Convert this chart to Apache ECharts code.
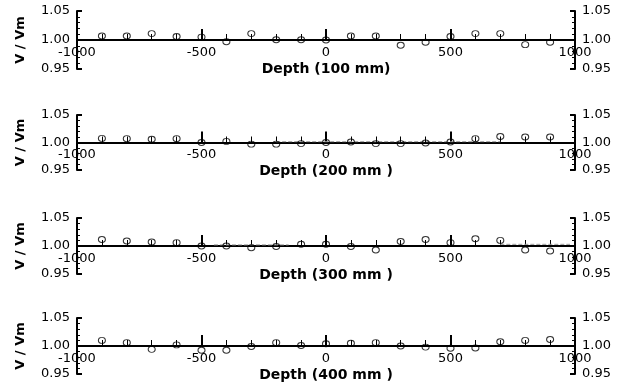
<!DOCTYPE html>
<html>
<head>
<meta charset="utf-8">
<script src="https://cdn.jsdelivr.net/npm/echarts@6/dist/echarts.min.js"></script>
<style>
  html, body { margin: 0; padding: 0; background: #fff; }
  #main-chart { width: 627px; height: 388px; }
</style>
</head>
<body>
<div id="main-chart"></div>
<script>
// ------- data -------
const depthPoints = [-900, -800, -700, -600, -500, -400, -300, -200, -100, 0, 100, 200, 300, 400, 500, 600, 700, 800, 900];

const ratio100 = [1.007, 1.007, 1.011, 1.006, 1.005, 0.997, 1.011, 1.0005, 1.0005, 1.000, 1.007, 1.007, 0.991, 0.996, 1.006, 1.011, 1.011, 0.992, 0.996];
const ratio200 = [1.0075, 1.007, 1.006, 1.007, 1.000, 1.002, 0.997, 0.997, 0.998, 1.000, 1.001, 0.998, 0.998, 0.999, 1.001, 1.007, 1.011, 1.010, 1.010];
const ratio300 = [1.0115, 1.009, 1.007, 1.006, 1.000, 1.000, 0.997, 0.999, 1.003, 1.003, 0.999, 0.993, 1.008, 1.0115, 1.006, 1.013, 1.010, 0.993, 0.991];
const ratio400 = [1.010, 1.006, 0.994, 1.002, 0.9925, 0.9925, 0.999, 1.006, 1.001, 1.004, 1.005, 1.006, 1.000, 0.998, 0.996, 0.9965, 1.0075, 1.010, 1.0115];

// faint dashed reference lines lying on the axis
const refLine200 = [[-200, 1.0015], [700, 1.0015]];
const refLine300 = [[-450, 1.002], [-150, 1.002], ['-', '-'], [700, 1.003], [980, 1.003]];

const panelTitles = ['Depth (100 mm)', 'Depth (200 mm )', 'Depth (300 mm )', 'Depth (400 mm )'];
const yMin = 0.95, yMax = 1.05, yStep = 0.05;
const xMin = -1000, xMax = 1000, xStep = 500;

// ------- layout -------
const panelTop = [11, 115, 218, 318];
const panelHeight = [58, 55, 56, 56];
const textFont = 'DejaVu Sans';

const panels = [ratio100, ratio200, ratio300, ratio400];
const refLines = [null, refLine200, refLine300, null];

const grids = [], xAxes = [], yAxes = [], series = [];

panels.forEach((vals, i) => {
    grids.push({ left: 77, right: 52, top: panelTop[i], height: panelHeight[i] });

    xAxes.push({
        gridIndex: i,
        type: 'value',
        min: xMin, max: xMax, interval: xStep,
        position: 'bottom',
        offset: -panelHeight[i] / 2,
        axisLine: { onZero: false, lineStyle: { color: '#000', width: 2 } },
        axisTick: { inside: true, length: 11, lineStyle: { color: '#000', width: 2 } },
        minorTick: { show: true, splitNumber: 5, length: 6, lineStyle: { color: '#000', width: 1 } },
        splitLine: { show: false },
        axisLabel: {
            margin: 6, color: '#000', fontSize: 13, fontFamily: textFont,
            formatter: v => String(v)
        },
        name: panelTitles[i],
        nameLocation: 'middle',
        nameGap: 22,
        nameTextStyle: { color: '#000', fontSize: 14, fontWeight: 'bold', fontFamily: textFont }
    });

    ['left', 'right'].forEach(side => {
        yAxes.push({
            gridIndex: i,
            type: 'value',
            position: side,
            min: yMin, max: yMax, interval: yStep,
            axisLine: { show: true, onZero: false, lineStyle: { color: '#000', width: 2 } },
            axisTick: { show: true, inside: true, length: 5, lineStyle: { color: '#000', width: 2 } },
            minorTick: { show: true, splitNumber: 5, length: 3, lineStyle: { color: '#000', width: 1 } },
            splitLine: { show: false },
            axisLabel: {
                margin: 7, color: '#000', fontSize: 13, fontFamily: textFont,
                formatter: v => v.toFixed(2)
            },
            name: side === 'left' ? 'V / Vm' : '',
            nameLocation: 'middle',
            nameRotate: 90,
            nameGap: 50,
            nameTextStyle: { color: '#000', fontSize: 13, fontWeight: 'bold', fontFamily: textFont }
        });
    });

    if (refLines[i]) {
        series.push({
            type: 'line',
            xAxisIndex: i, yAxisIndex: i * 2,
            data: refLines[i],
            symbol: 'none',
            silent: true,
            lineStyle: { color: '#999', width: 1, type: [4, 2] },
            z: 1
        });
    }

    series.push({
        type: 'scatter',
        xAxisIndex: i, yAxisIndex: i * 2,
        data: depthPoints.map((d, k) => [d, vals[k]]),
        symbol: 'circle',
        symbolSize: [7, 6],
        itemStyle: { color: 'rgba(0,0,0,0)', borderColor: '#000', borderWidth: 1 },
        z: 3
    });
});

const chart = echarts.init(document.getElementById('main-chart'), null, { renderer: 'canvas' });
chart.setOption({
    backgroundColor: '#fff',
    animation: false,
    grid: grids,
    xAxis: xAxes,
    yAxis: yAxes,
    series: series
});
</script>
</body>
</html>
